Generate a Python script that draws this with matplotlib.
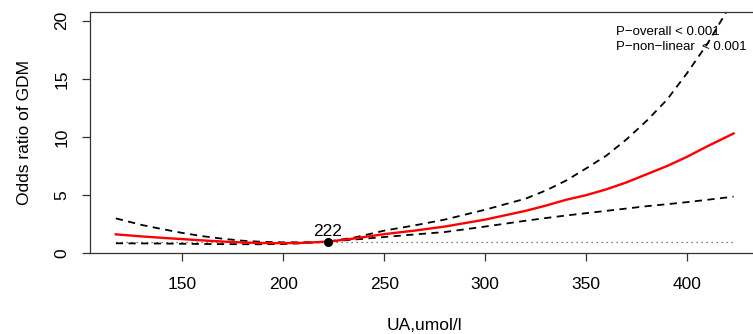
import matplotlib
matplotlib.use("Agg")
import matplotlib.pyplot as plt

plt.rcParams["font.family"] = ["Liberation Sans", "DejaVu Sans"]

# uric acid (umol/l) and odds ratio of GDM with 95% CI
ua = [117, 130, 140, 150, 160, 170, 180, 190, 200, 210, 222, 235, 250,
      265, 280, 300, 320, 330, 340, 350, 360, 370, 380, 390, 400, 410, 423]
odds = [1.63, 1.45, 1.33, 1.22, 1.11, 1.01, 0.93, 0.88, 0.87, 0.90, 1.00,
        1.27, 1.65, 1.95, 2.30, 2.90, 3.65, 4.10, 4.60, 5.00, 5.50, 6.10,
        6.80, 7.50, 8.30, 9.20, 10.3]
upper = [3.0, 2.43, 2.08, 1.75, 1.47, 1.25, 1.08, 0.98, 0.94, 0.95, 1.00,
         1.35, 1.95, 2.40, 2.90, 3.75, 4.70, 5.40, 6.25, 7.30, 8.40, 9.80,
         11.4, 13.2, 15.5, 18.0, 21.8]
lower = [0.86, 0.85, 0.84, 0.82, 0.80, 0.79, 0.78, 0.78, 0.80, 0.87, 1.00,
         1.18, 1.40, 1.62, 1.83, 2.30, 2.80, 3.03, 3.25, 3.45, 3.65, 3.85,
         4.05, 4.22, 4.40, 4.60, 4.87]
ref_ua = 222
ref_or = 1.0
x_ticks = [150, 200, 250, 300, 350, 400]
y_ticks = [0, 5, 10, 15, 20]


def main():
    fig = plt.figure(figsize=(7.53, 3.34), dpi=100)
    ax = fig.add_axes([90 / 753, 80.7 / 334, 669 / 753, 241 / 334])

    ax.plot([ua[0], ua[-1]], [ref_or, ref_or], color="#555555",
            linestyle=(0, (1, 3)), linewidth=0.9)
    ax.plot(ua, upper, color="black", linestyle=(0, (4, 3)), linewidth=1.3)
    ax.plot(ua, lower, color="black", linestyle=(0, (4, 3)), linewidth=1.3)
    ax.plot(ua, odds, color="#ff0000", linewidth=1.7)
    ax.plot([ref_ua], [ref_or], "o", color="black", markersize=5.5)
    ax.annotate(str(ref_ua), (ref_ua, ref_or), xytext=(0, 2),
                textcoords="offset points", ha="center", va="bottom",
                fontsize=12.5)

    ax.text(0.786, 0.92, "P\u2212overall < 0.001", transform=ax.transAxes,
            fontsize=9.5, va="center", ha="left")
    ax.text(0.786, 0.857, "P\u2212non\u2212linear  < 0.001",
            transform=ax.transAxes, fontsize=9.5, va="center", ha="left")

    ax.set_xlim(104.2, 435.6)
    ax.set_ylim(0, 20.72)
    ax.set_xticks(x_ticks)
    ax.set_yticks(y_ticks)
    ax.tick_params(axis="both", length=6, width=0.9, color="#333333",
                   labelsize=12.5, pad=9)
    ax.tick_params(axis="x", pad=11)
    ax.tick_params(axis="y", labelrotation=90)
    for lab in ax.get_yticklabels():
        lab.set_va("center")
    for sp in ax.spines.values():
        sp.set_color("#333333")
        sp.set_linewidth(0.9)

    ax.set_xlabel("UA,umol/l", fontsize=12.5, labelpad=19)
    ax.set_ylabel("Odds ratio of GDM", fontsize=12.5, labelpad=16)

    fig.savefig("out.png", dpi=100)


if __name__ == "__main__":
    main()
